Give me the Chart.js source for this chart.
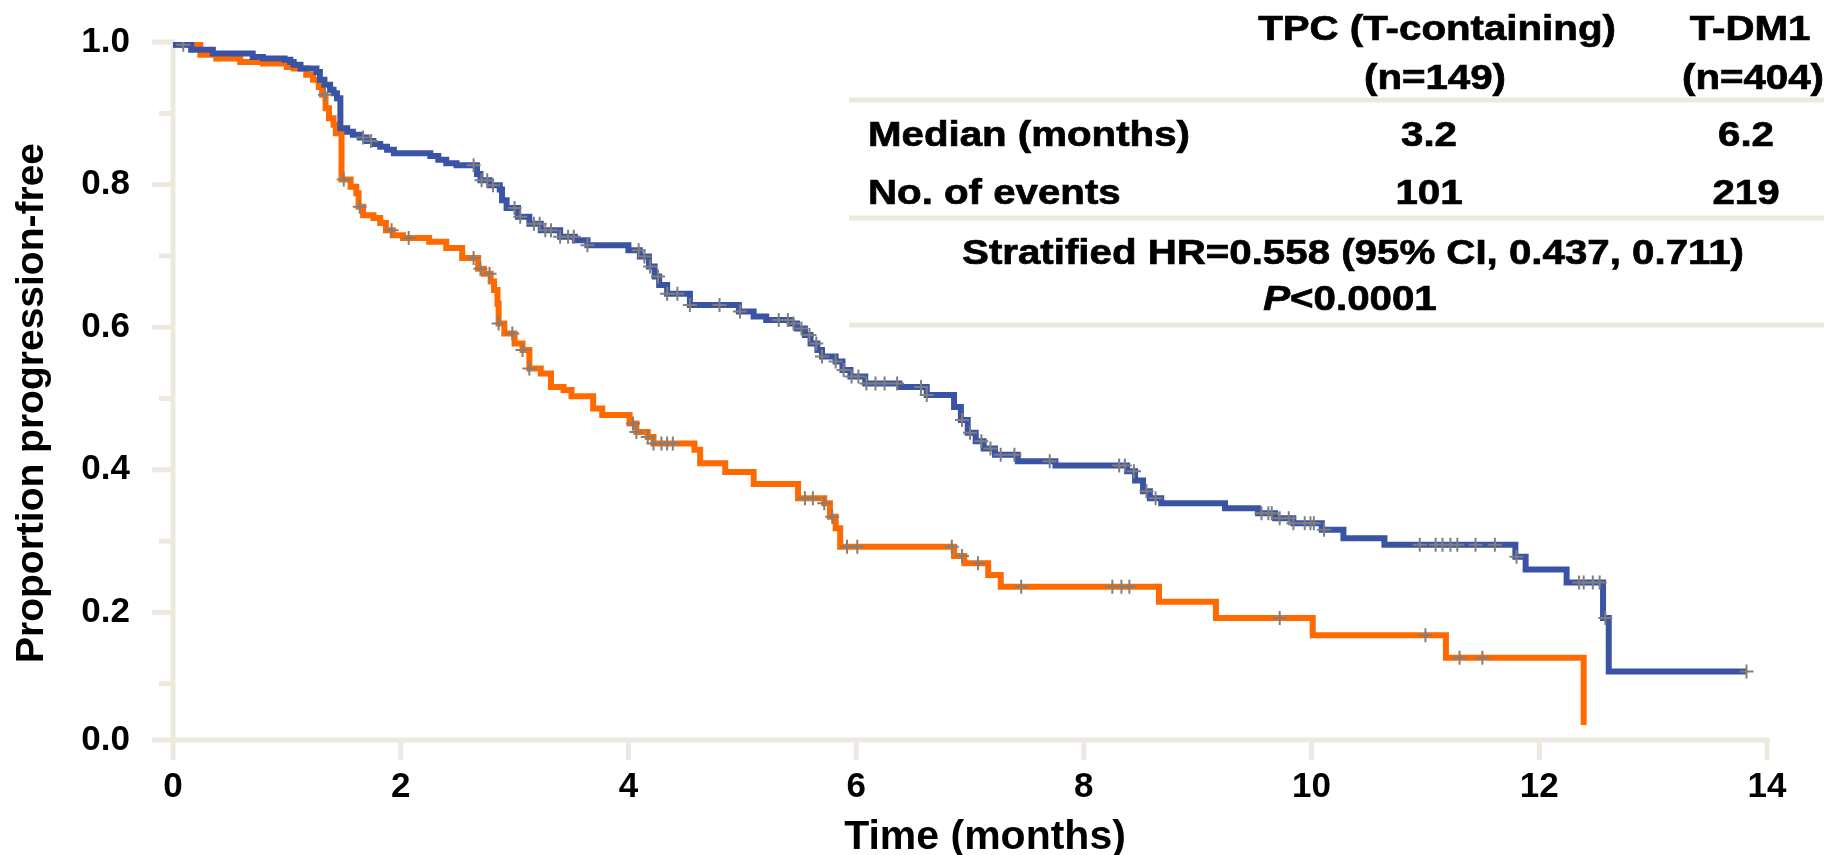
<!DOCTYPE html>
<html>
<head>
<meta charset="utf-8">
<title>Progression-free survival</title>
<script src="https://cdn.jsdelivr.net/npm/chart.js@4.4.0/dist/chart.umd.min.js"></script>
<style>
  html, body { margin: 0; padding: 0; background: #ffffff; }
  #wrap { position: relative; width: 1824px; height: 855px; }
</style>
</head>
<body>
<div id="wrap"><canvas id="pfsChart"></canvas></div>
<script>
// Kaplan-Meier steps: month of each drop and the proportion after it
const tpcTime = [0, 0.24, 0.38, 0.59, 0.79, 1.00, 1.06, 1.17, 1.23, 1.28, 1.31, 1.34, 1.37, 1.41, 1.43,
  1.48, 1.56, 1.61, 1.63, 1.67, 1.76, 1.82, 1.87, 1.93, 2.02, 2.25, 2.40, 2.54, 2.68, 2.73, 2.79,
  2.82, 2.85, 2.86, 2.91, 3.00, 3.07, 3.13, 3.23, 3.32, 3.43, 3.50, 3.69, 3.77, 4.01, 4.07, 4.17,
  4.22, 4.58, 4.63, 4.85, 5.10, 5.49, 5.72, 5.77, 5.82, 5.86, 6.86, 6.95, 7.16, 7.27, 8.66, 9.16,
  10.01, 11.18, 12.39];
const tpcSurv = [0.996, 0.982, 0.977, 0.972, 0.970, 0.965, 0.963, 0.954, 0.947, 0.937, 0.926, 0.907,
  0.893, 0.884, 0.872, 0.807, 0.797, 0.788, 0.769, 0.757, 0.753, 0.746, 0.736, 0.729, 0.725, 0.720,
  0.711, 0.697, 0.682, 0.675, 0.664, 0.652, 0.633, 0.605, 0.591, 0.577, 0.568, 0.542, 0.535, 0.516,
  0.512, 0.503, 0.486, 0.477, 0.465, 0.453, 0.446, 0.437, 0.428, 0.409, 0.397, 0.380, 0.360, 0.353,
  0.334, 0.318, 0.292, 0.279, 0.269, 0.2525, 0.236, 0.215, 0.192, 0.168, 0.1365, 0.042];
const tpcCensor = [1.335, 1.50, 1.64, 1.92, 2.07, 2.64, 2.70, 2.78, 2.86, 2.98, 3.07, 3.13, 4.04,
  4.07, 4.17, 4.22, 4.29, 4.34, 4.39, 5.55, 5.62, 5.72, 5.79, 5.92, 6.01, 6.84, 6.93, 7.07, 7.45,
  8.25, 8.33, 8.40, 9.72, 11.0, 11.3, 11.5];

const tdm1Time = [0, 0.16, 0.35, 0.70, 0.79, 0.98, 1.03, 1.06, 1.12, 1.26, 1.29, 1.33, 1.38, 1.41,
  1.44, 1.47, 1.53, 1.58, 1.64, 1.70, 1.76, 1.82, 1.88, 1.94, 2.26, 2.33, 2.40, 2.49, 2.67, 2.70,
  2.78, 2.87, 2.89, 2.93, 3.03, 3.13, 3.23, 3.40, 3.53, 3.64, 4.00, 4.10, 4.18, 4.23, 4.27, 4.34,
  4.54, 4.97, 5.10, 5.21, 5.42, 5.48, 5.55, 5.60, 5.66, 5.70, 5.82, 5.88, 5.95, 6.08, 6.38, 6.62,
  6.86, 6.92, 6.98, 7.05, 7.12, 7.22, 7.42, 7.75, 8.38, 8.45, 8.52, 8.58, 8.68, 9.24, 9.53, 9.68,
  9.84, 10.09, 10.28, 10.64, 11.79, 11.88, 12.24, 12.56, 12.61, 13.82];
const tdm1Surv = [0.996, 0.989, 0.984, 0.979, 0.977, 0.975, 0.972, 0.968, 0.963, 0.958, 0.947, 0.940,
  0.933, 0.928, 0.921, 0.879, 0.874, 0.870, 0.866, 0.861, 0.857, 0.853, 0.849, 0.844, 0.840, 0.835,
  0.830, 0.827, 0.815, 0.806, 0.799, 0.793, 0.778, 0.767, 0.755, 0.745, 0.736, 0.727, 0.722, 0.715,
  0.708, 0.699, 0.685, 0.671, 0.659, 0.647, 0.631, 0.622, 0.615, 0.610, 0.605, 0.598, 0.589, 0.577,
  0.568, 0.559, 0.552, 0.540, 0.531, 0.521, 0.516, 0.505, 0.488, 0.470, 0.452, 0.440, 0.430, 0.421,
  0.412, 0.406, 0.398, 0.385, 0.370, 0.360, 0.353, 0.346, 0.339, 0.332, 0.325, 0.316, 0.304, 0.295,
  0.278, 0.260, 0.242, 0.192, 0.117, 0.117];
const tdm1Censor = [0.09, 1.67, 1.74, 2.64, 2.71, 2.76, 2.81, 3.00, 3.05, 3.17, 3.22, 3.27, 3.32,
  3.40, 3.47, 3.52, 3.64, 4.09, 4.14, 4.19, 4.26, 4.34, 4.43, 4.54, 4.80, 4.98, 5.32, 5.40, 5.45,
  5.52, 5.59, 5.65, 5.70, 5.82, 5.89, 5.96, 6.02, 6.09, 6.17, 6.25, 6.36, 6.57, 6.62, 6.93, 7.00,
  7.10, 7.18, 7.27, 7.39, 7.70, 8.31, 8.36, 8.44, 8.55, 8.63, 9.56, 9.62, 9.65, 9.72, 9.80, 9.84,
  9.94, 9.99, 10.02, 10.11, 10.95, 11.09, 11.15, 11.22, 11.28, 11.44, 11.61, 11.80, 12.35, 12.39,
  12.47, 12.53, 12.58, 13.82];

const xTicks = [0, 2, 4, 6, 8, 10, 12, 14];
const yTicks = [0.0, 0.2, 0.4, 0.6, 0.8, 1.0];
const yMinorTicks = [0.1, 0.3, 0.5, 0.7, 0.9];

const tableHead = [['TPC (T-containing)', '(n=149)'], ['T-DM1', '(n=404)']];
const tableRows = [['Median (months)', '3.2', '6.2'], ['No. of events', '101', '219']];
const hrLine = 'Stratified HR=0.558 (95% CI, 0.437, 0.711)';
const pLine = ['P', '<0.0001'];

const FONT = "'Liberation Sans', Arial, Helvetica, sans-serif";
const AXIS_COLOR = '#ECE9DF';
const ORANGE = '#FF6A00';
const BLUE = '#3A53A4';
const CENSOR = '#7F7F7F';
// the horizontal axis sits a touch above zero and carries the 0.0 label
const AXIS_FLOOR = 0.021;

function stepPoints(times, surv) {
  return times.map((t, i) => ({ x: t, y: surv[i] }));
}

function survAt(times, surv, t) {
  let s = surv[0];
  for (let i = 0; i < times.length; i++) {
    if (times[i] <= t) s = surv[i];
  }
  return s;
}

function censorPoints(cens, times, surv) {
  return cens.map(t => ({ x: t, y: survAt(times, surv, t) }));
}

function segment(ctx, x1, y1, x2, y2) {
  ctx.beginPath();
  ctx.moveTo(x1, y1);
  ctx.lineTo(x2, y2);
  ctx.stroke();
}

// axis lines and tick marks in the light beige style
const axesPlugin = {
  id: 'kmAxes',
  beforeDatasetsDraw(chart) {
    const { ctx, scales: { x, y } } = chart;
    const x0 = x.getPixelForValue(0);
    const xEnd = x.getPixelForValue(xTicks[xTicks.length - 1]);
    const yBase = y.getPixelForValue(AXIS_FLOOR);
    const yTop = y.getPixelForValue(1);
    ctx.save();
    ctx.strokeStyle = AXIS_COLOR;
    ctx.lineWidth = 5;
    segment(ctx, x0, yTop - 2.5, x0, yBase + 20);
    segment(ctx, x0 - 21, yBase, xEnd + 2.5, yBase);
    yTicks.slice(1).forEach(v => {
      const py = y.getPixelForValue(v);
      segment(ctx, x0 - 21, py, x0, py);
    });
    yMinorTicks.forEach(v => {
      const py = y.getPixelForValue(v);
      segment(ctx, x0 - 14, py, x0, py);
    });
    xTicks.slice(1).forEach(v => {
      const px = x.getPixelForValue(v);
      segment(ctx, px, yBase, px, yBase + 20);
    });
    ctx.restore();
  }
};

function stretchedText(ctx, str, x, y, align, sx) {
  ctx.save();
  ctx.translate(x, y);
  ctx.scale(sx, 1);
  ctx.textAlign = align;
  ctx.fillText(str, 0, 0);
  ctx.strokeText(str, 0, 0);
  ctx.restore();
}

// axis titles and the summary table in the upper right
const annotationPlugin = {
  id: 'kmAnnotations',
  afterDraw(chart) {
    const { ctx } = chart;
    ctx.save();
    ctx.fillStyle = '#000000';
    ctx.textBaseline = 'alphabetic';

    ctx.font = 'bold 41px ' + FONT;
    ctx.textAlign = 'center';
    ctx.fillText('Time (months)', 985, 849);
    ctx.save();
    ctx.translate(43, 403);
    ctx.rotate(-Math.PI / 2);
    ctx.font = 'bold 39px ' + FONT;
    ctx.fillText('Proportion progression-free', 0, 0);
    ctx.restore();

    ctx.strokeStyle = AXIS_COLOR;
    ctx.lineWidth = 5;
    [100, 218, 325].forEach(py => segment(ctx, 849, py, 1824, py));

    // a hairline stroke gives the table text its heavier weight
    ctx.strokeStyle = '#000000';
    ctx.lineWidth = 0.7;
    const sx = 1.15;
    ctx.font = 'bold 35px ' + FONT;
    const colX = [1437, 1750];
    tableHead.forEach((lines, i) => {
      stretchedText(ctx, lines[0], colX[i], 40, 'center', sx);
      stretchedText(ctx, lines[1], colX[i] + (i === 1 ? 3 : -2), 89, 'center', sx);
    });
    const rowY = [146, 204];
    tableRows.forEach((row, r) => {
      stretchedText(ctx, row[0], 868, rowY[r], 'left', sx);
      stretchedText(ctx, row[1], 1429, rowY[r], 'center', sx);
      stretchedText(ctx, row[2], 1746, rowY[r], 'center', sx);
    });
    stretchedText(ctx, hrLine, 1353, 264, 'center', sx);

    const italic = 'italic bold 35px ' + FONT;
    const bold = 'bold 35px ' + FONT;
    ctx.font = italic;
    const wP = ctx.measureText(pLine[0]).width * sx;
    ctx.font = bold;
    const wRest = ctx.measureText(pLine[1]).width * sx;
    const start = 1350 - (wP + wRest) / 2;
    ctx.font = italic;
    stretchedText(ctx, pLine[0], start, 310, 'left', sx);
    ctx.font = bold;
    stretchedText(ctx, pLine[1], start + wP, 310, 'left', sx);
    ctx.restore();
  }
};

Chart.defaults.font.family = FONT;

const censorStyle = {
  type: 'scatter',
  pointStyle: 'cross',
  pointRadius: 7,
  borderColor: CENSOR,
  backgroundColor: CENSOR,
  pointBorderWidth: 2,
  showLine: false
};

new Chart(document.getElementById('pfsChart'), {
  type: 'line',
  data: {
    datasets: [
      Object.assign({}, censorStyle, {
        label: 'T-DM1 censored',
        data: censorPoints(tdm1Censor, tdm1Time, tdm1Surv),
        order: 0
      }),
      Object.assign({}, censorStyle, {
        label: 'TPC censored',
        data: censorPoints(tpcCensor, tpcTime, tpcSurv),
        order: 1
      }),
      {
        label: 'T-DM1',
        data: stepPoints(tdm1Time, tdm1Surv),
        borderColor: BLUE,
        borderWidth: 6,
        stepped: true,
        pointRadius: 0,
        fill: false,
        order: 2
      },
      {
        label: 'TPC (T-containing)',
        data: stepPoints(tpcTime, tpcSurv),
        borderColor: ORANGE,
        borderWidth: 6,
        stepped: true,
        pointRadius: 0,
        fill: false,
        order: 3
      }
    ]
  },
  options: {
    responsive: true,
    maintainAspectRatio: false,
    animation: false,
    layout: {
      padding: { top: 42, right: 57, bottom: 0, left: 0 }
    },
    plugins: {
      legend: { display: false },
      tooltip: { enabled: false }
    },
    scales: {
      x: {
        type: 'linear',
        min: 0,
        max: 14,
        afterFit: function(scale) { scale.height = 115; },
        afterBuildTicks: function(scale) {
          scale.ticks = xTicks.map(v => ({ value: v }));
        },
        grid: { display: false, drawTicks: false },
        border: { display: false },
        ticks: {
          padding: 26,
          color: '#000000',
          font: { size: 35, weight: 'bold' },
          callback: function(value) { return String(value); }
        }
      },
      y: {
        type: 'linear',
        min: AXIS_FLOOR,
        max: 1,
        afterFit: function(scale) {
          scale.width = 173;
          scale.paddingTop = 0;
          scale.paddingBottom = 0;
        },
        afterBuildTicks: function(scale) {
          scale.ticks = yTicks.map(v => ({ value: v === 0 ? AXIS_FLOOR : v }));
        },
        grid: { display: false, drawTicks: false },
        border: { display: false },
        ticks: {
          padding: 43,
          color: '#000000',
          font: { size: 35, weight: 'bold' },
          callback: function(value) {
            return value === AXIS_FLOOR ? '0.0' : value.toFixed(1);
          }
        }
      }
    }
  },
  plugins: [axesPlugin, annotationPlugin]
});
</script>
</body>
</html>
